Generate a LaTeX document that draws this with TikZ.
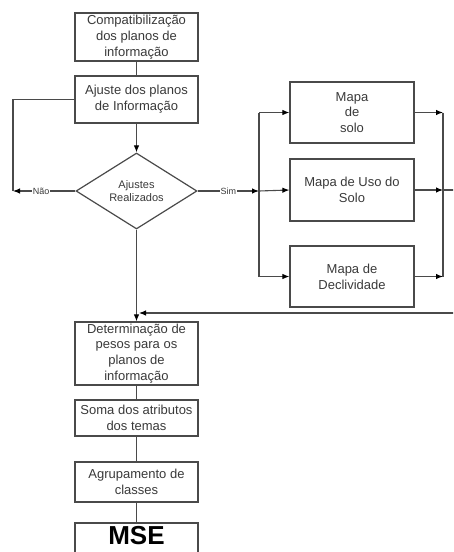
\documentclass[tikz,border=0pt]{standalone}
\usepackage{fontspec}
\setmainfont{Liberation Sans}
\usetikzlibrary{shapes.geometric,arrows.meta}
\definecolor{linegray}{HTML}{4A4A4A}
\definecolor{txtgray}{HTML}{3A3A3A}
\begin{document}
\begin{tikzpicture}[x=1pt,y=-1pt,
  box/.style={draw=linegray,line width=1.2pt,fill=white,text=txtgray,
    minimum width=123pt,inner sep=0pt,align=center,
    font=\fontsize{13}{15.8}\selectfont},
  mapbox/.style={box,minimum width=124pt},
  decision/.style={diamond,draw=linegray,line width=1.2pt,fill=white,
    text=txtgray,minimum width=121pt,minimum height=76pt,inner sep=0pt,
    align=center,font=\fontsize{11}{13.5}\selectfont},
  conn/.style={draw=linegray,line width=1.1pt},
  arr/.style={conn,-{Latex[length=7pt,width=5.5pt,color=black]}},
  tag/.style={fill=white,inner sep=1pt,text=txtgray,
    font=\fontsize{9}{10}\selectfont}]
\useasboundingbox (0,0) rectangle (453,552);
\clip (0,0) rectangle (453,552);
\fill[white] (0,0) rectangle (453,552);

% main column
\node[box,minimum height=48pt] (b1) at (136.5,37) {Compatibilização\\dos planos de\\informação};
\node[box,minimum height=47pt] (b2) at (136.5,99.5) {Ajuste dos planos\\de Informação};
\node[decision] (dia) at (136.5,191) {Ajustes\\Realizados};
\node[box,minimum height=63pt] (det) at (136.5,353.5) {Determinação de\\pesos para os\\planos de\\informação};
\node[box,minimum height=36pt] (soma) at (136.5,418) {Soma dos atributos\\dos temas};
\node[box,minimum height=40pt] (agr) at (136.5,482) {Agrupamento de\\classes};
\node[box,minimum height=40pt] (mse) at (136.5,543) {};
\node[text=black,font=\fontsize{26}{28}\bfseries] (msetxt) at (136.5,535.5) {MSE};

% map column
\node[mapbox,minimum height=61pt] (solo) at (352,112.5) {Mapa\\de\\solo};
\node[mapbox,minimum height=62pt] (uso) at (352,190) {Mapa de Uso do\\Solo};
\node[mapbox,minimum height=61pt] (decl) at (352,276.5) {Mapa de\\Declividade};

% junction points
\coordinate (nao) at (13,191);
\coordinate (split) at (259,191);
\coordinate (s1) at (259,112.5);
\coordinate (s3) at (259,276.5);
\coordinate (m1) at (443,112.5);
\coordinate (m2) at (443,190);
\coordinate (m3) at (443,276.5);
\coordinate (out) at (462,190);
\coordinate (back) at (462,313);
\coordinate (ret) at (139,313);

% connectors of the main column
\draw[conn] (b1) -- (b2);
\draw[arr] (b2) -- (dia);
\draw[arr] (dia.west) -- node[tag,pos=0.55] {Não} (nao);
\draw[conn] (nao) |- (b2.west);
\draw[arr] (dia.east) -- node[tag,pos=0.5] {Sim} (split);
\draw[arr] (dia.south) -- (det.north);
\draw[conn] (det) -- (soma);
\draw[conn] (soma) -- (agr);
\draw[conn] (agr) -- (mse);

% branches into the maps
\draw[conn] (s1) -- (s3);
\draw[arr] (s1) -- (solo.west);
\draw[arr] (split) -- (uso.west);
\draw[arr] (s3) -- (decl.west);

% maps merging and returning
\draw[arr] (solo.east) -- (m1);
\draw[arr] (uso.east) -- (m2);
\draw[arr] (decl.east) -- (m3);
\draw[conn] (m1) -- (m3);
\draw[conn] (m2) -- (out) -- (back);
\draw[arr] (back) -- (ret);
\end{tikzpicture}
\end{document}
